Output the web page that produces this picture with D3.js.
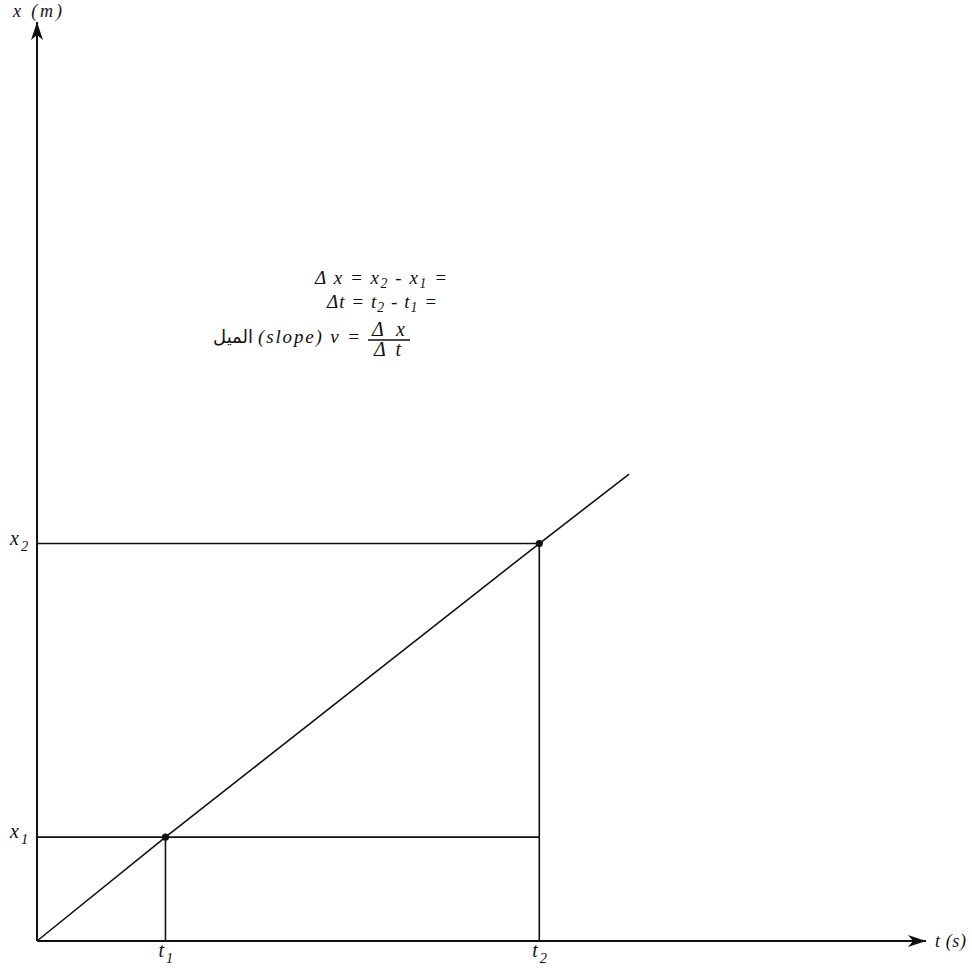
<!DOCTYPE html>
<html>
<head>
<meta charset="utf-8">
<script src="https://cdn.jsdelivr.net/npm/d3@7"></script>
<style>
  html, body { margin: 0; padding: 0; background: #fff; }
  svg { display: block; }
</style>
</head>
<body>
<svg id="chart" width="972" height="968"></svg>
<script>
// ---- data (arbitrary units 0..100) ----
const axisLabels = { t: "t (s)", x: "x (m)" };
const markIndex = ["1", "2"];          // subscripts of the two marked points
const tValues = [14.45, 56.5];         // t1, t2
const xValues = [11.3, 43.25];         // x1, x2
const lineT = [0, 14.45, 56.5, 66.6];  // position-time line
const lineX = [0, 11.3, 43.25, 50.8];
const formulaLines = [
  [["Δ x = x", ""], ["2", "sub"], [" - x", "up"], ["1", "sub"], [" =", "up"]],
  [["Δt = t", ""], ["2", "sub"], [" - t", "up"], ["1", "sub"], [" =", "up"]]
];
const slopeArabic = "الميل";
const slopeText = "(slope) v =";
const fracNum = "Δx", fracDen = "Δt";

// ---- scales ----
const SERIF = "Liberation Serif";
const svg = d3.select("#chart");
const t = d3.scaleLinear().domain([0, 100]).range([37, 926]);
const x = d3.scaleLinear().domain([0, 100]).range([941, 22]);
const ink = "#111";

function txt(xp, yp, size) {
  return svg.append("text").attr("x", xp).attr("y", yp)
    .attr("font-family", SERIF).attr("font-style", "italic")
    .attr("font-size", size).attr("fill", ink);
}
// stretch a text element's letter spacing so it spans the wanted width
function fitWidth(sel, target) {
  const node = sel.node();
  const len = node.getComputedTextLength();
  const n = node.textContent.length;
  if (n > 1) sel.attr("letter-spacing", Math.max(0, (target - len) / (n - 1)));
  return sel;
}

// arrow marker
svg.append("defs").append("marker")
  .attr("id", "arrow")
  .attr("viewBox", "0 0 18 12")
  .attr("refX", 18).attr("refY", 6)
  .attr("markerWidth", 18).attr("markerHeight", 12)
  .attr("markerUnits", "userSpaceOnUse")
  .attr("orient", "auto")
  .append("path")
  .attr("d", "M0,0 L18,6 L0,12 L5,6 Z")
  .attr("fill", ink);

// guide lines
const g = svg.append("g").attr("stroke", ink).attr("stroke-width", 1.6).attr("fill", "none");
tValues.forEach((tv, i) => {
  g.append("line").attr("x1", t(tv)).attr("x2", t(tv)).attr("y1", x(0)).attr("y2", x(xValues[i]));
});
xValues.forEach((xv) => {
  g.append("line").attr("x1", t(0)).attr("x2", t(tValues[1])).attr("y1", x(xv)).attr("y2", x(xv));
});

// the x-t line
const pts = lineT.map((tv, i) => [tv, lineX[i]]);
svg.append("path")
  .datum(pts)
  .attr("d", d3.line().x(d => t(d[0])).y(d => x(d[1])))
  .attr("fill", "none").attr("stroke", ink).attr("stroke-width", 1.6);

// axes
svg.append("line").attr("x1", t(0)).attr("y1", x(0)).attr("x2", t(100)).attr("y2", x(0))
  .attr("stroke", ink).attr("stroke-width", 2).attr("marker-end", "url(#arrow)");
svg.append("line").attr("x1", t(0)).attr("y1", x(0)).attr("x2", t(0)).attr("y2", x(100))
  .attr("stroke", ink).attr("stroke-width", 2).attr("marker-end", "url(#arrow)");

// points
svg.selectAll("circle.pt").data(tValues).join("circle")
  .attr("class", "pt")
  .attr("cx", d => t(d)).attr("cy", (d, i) => x(xValues[i]))
  .attr("r", 3.6).attr("fill", ink);

// axis titles
fitWidth(txt(13, 17, 18).text(axisLabels.x), 49);
fitWidth(txt(t(100) + 9, x(0) + 6, 18).text(axisLabels.t), 31);

// labels with subscripts
function subLabel(sel, base, sub, size) {
  sel.append("tspan").text(base);
  sel.append("tspan").attr("dy", 6).attr("dx", 2).attr("font-size", size * 0.72).text(sub);
}
tValues.forEach((tv, i) => subLabel(txt(t(tv) - 7, x(0) + 16, 20), "t", markIndex[i], 20));
xValues.forEach((xv, i) => subLabel(txt(10, x(xv) + 1, 20), "x", markIndex[i], 20));

// formula block
const fSize = 19;
const lineSpec = [{ left: 315, right: 447, y: 284 }, { left: 327, right: 437, y: 308 }];
formulaLines.forEach((parts, li) => {
  const spec = lineSpec[li];
  const tx = txt(spec.left, spec.y, fSize);
  parts.forEach(([s, kind]) => {
    const sp = tx.append("tspan").text(s);
    if (kind === "sub") sp.attr("dy", 4).attr("font-size", fSize * 0.72);
    else if (kind === "up") sp.attr("dy", -4);
  });
  fitWidth(tx, spec.right - spec.left);
});

svg.append("text").attr("x", 253).attr("y", 343).attr("fill", ink)
  .attr("text-anchor", "end")
  .attr("font-family", "DejaVu Sans")
  .attr("font-size", 18).text(slopeArabic);
fitWidth(txt(258, 343, fSize).text(slopeText), 102);
svg.append("line").attr("x1", 368).attr("x2", 410).attr("y1", 340).attr("y2", 340)
  .attr("stroke", ink).attr("stroke-width", 1.3);
fitWidth(txt(372, 336, 20).text(fracNum), 33);
fitWidth(txt(374, 356, 20).text(fracDen), 27);
</script>
</body>
</html>
